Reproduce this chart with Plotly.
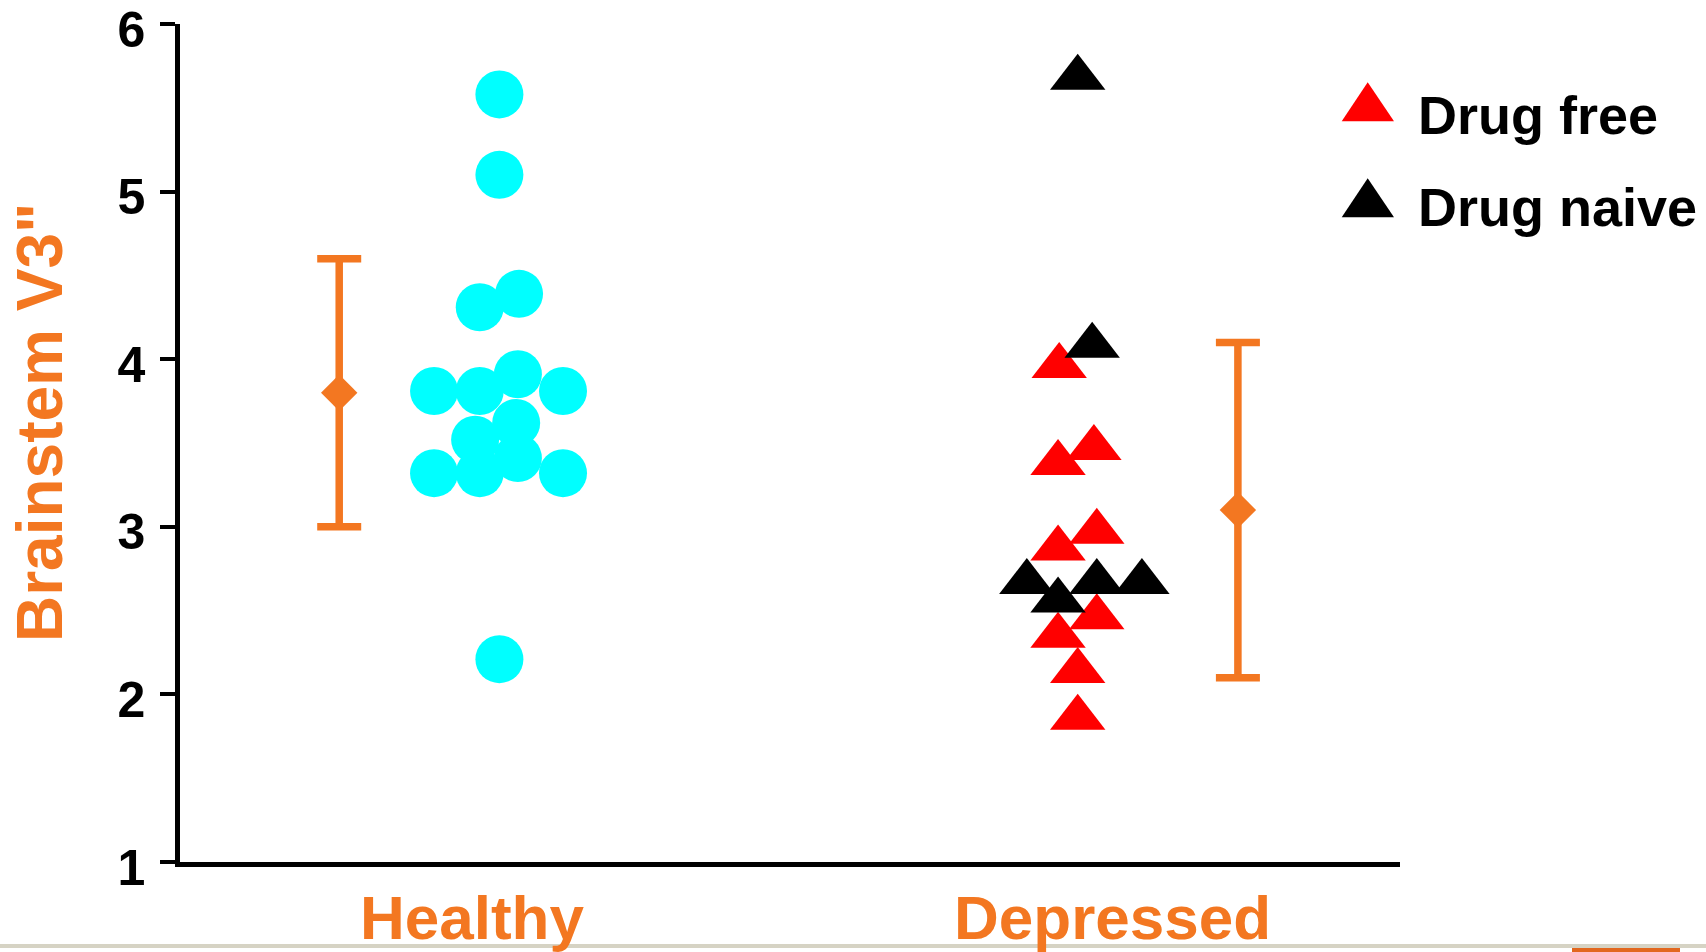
import plotly.graph_objects as go

# ---------------- data ----------------
group_names = ["Healthy", "Depressed"]
group_pos = [1, 2]

healthy_values = [5.58, 5.10, 4.31, 4.39, 3.81, 3.81, 3.91, 3.81, 3.62, 3.52, 3.41, 3.32, 3.32, 3.32, 2.21]
healthy_jitter = [0.0, 0.0, -0.034, 0.034, -0.113, -0.034, 0.032, 0.110, 0.029, -0.042, 0.032, -0.113, -0.034, 0.110, 0.0]

drug_free_values = [3.96, 3.47, 3.38, 2.97, 2.87, 2.46, 2.35, 2.14, 1.86]
drug_free_jitter = [-0.032, 0.028, -0.034, 0.033, -0.034, 0.033, -0.034, 0.0, 0.0]

drug_naive_values = [5.68, 4.08, 2.67, 2.67, 2.67, 2.56]
drug_naive_jitter = [0.0, 0.025, -0.088, 0.033, 0.111, -0.034]

summary_means = [3.8, 3.1]
summary_sd = [0.8, 1.0]
summary_offset = [-0.277, 0.277]

legend_labels = ["Drug free", "Drug naive"]
y_title = 'Brainstem V3"'
y_ticks = [1, 2, 3, 4, 5, 6]

# ---------------- style ----------------
ORANGE = "#F37721"
FONT = "Liberation Sans, Arial, sans-serif"

fig = go.Figure()

# mean +/- SD
fig.add_trace(go.Scatter(
    x=[p + o for p, o in zip(group_pos, summary_offset)],
    y=summary_means,
    mode="markers",
    marker=dict(symbol="diamond", size=28, color=ORANGE, line=dict(width=0)),
    error_y=dict(type="data", array=summary_sd, visible=True,
                 color=ORANGE, thickness=7.5, width=22),
    showlegend=False, hoverinfo="skip",
))

fig.add_trace(go.Scatter(
    x=[group_pos[0] + j for j in healthy_jitter],
    y=healthy_values,
    mode="markers",
    marker=dict(symbol="circle", size=48, color="#00FFFF", line=dict(width=0)),
    showlegend=False,
))

fig.add_trace(go.Scatter(
    x=[group_pos[1] + j for j in drug_free_jitter],
    y=drug_free_values,
    mode="markers",
    marker=dict(symbol="triangle-up", size=48, color="#FF0000", line=dict(width=0)),
    showlegend=False, name=legend_labels[0],
))

fig.add_trace(go.Scatter(
    x=[group_pos[1] + j for j in drug_naive_jitter],
    y=drug_naive_values,
    mode="markers",
    marker=dict(symbol="triangle-up", size=48, color="#000000", line=dict(width=0)),
    showlegend=False, name=legend_labels[1],
))

L, R, T, B = 180, 306, 24, 90
W, H = 1706, 952
pw, ph = W - L - R, H - T - B


def px(xp):
    return (xp - L) / pw


def py(yp):
    return (H - B - yp) / ph


fig.update_layout(
    width=W, height=H,
    margin=dict(l=L, r=R, t=T, b=B, autoexpand=False),
    paper_bgcolor="white", plot_bgcolor="white",
    showlegend=False,
    xaxis=dict(range=[0.4477, 2.5573], showgrid=False, zeroline=False,
               showline=True, linecolor="black", linewidth=5, automargin=False,
               showticklabels=False, ticks=""),
    yaxis=dict(range=[1, 6], tickvals=y_ticks, showgrid=False, zeroline=False,
               showline=True, linecolor="black", linewidth=4.5, automargin=False,
               ticks="outside", ticklen=15, tickwidth=4, tickcolor="black",
               ticklabelstandoff=5, ticklabeloverflow="allow", ticklabelshift=5,
               tickfont=dict(family=FONT, size=50, color="black", weight="bold")),
)

# category labels
for name, pos, xo in zip(group_names, group_pos, [-0.048, 0.060]):
    fig.add_annotation(x=pos + xo, y=py(917.7), xref="x", yref="paper",
                       text=name, showarrow=False, xanchor="center", yanchor="middle",
                       font=dict(family=FONT, size=62, color=ORANGE, weight="bold"))

# y title
fig.add_annotation(x=px(40), y=py(423), xref="paper", yref="paper",
                   text=y_title, textangle=-90, showarrow=False,
                   xanchor="center", yanchor="middle",
                   font=dict(family=FONT, size=64, color=ORANGE, weight="bold"))

# legend (manual)
legend_colors = ["#FF0000", "#000000"]
legend_apex = [82.3, 178.3]
legend_text_y = [114.7, 207.3]
for lab, col, ay, ty in zip(legend_labels, legend_colors, legend_apex, legend_text_y):
    ax0, axl, axr = px(1367.7), px(1341.7), px(1394)
    yt, yb = py(ay), py(ay + 39)
    fig.add_shape(type="path", xref="paper", yref="paper",
                  path=f"M {axl} {yb} L {axr} {yb} L {ax0} {yt} Z",
                  fillcolor=col, line=dict(width=0))
    fig.add_annotation(x=px(1416), y=py(ty), xref="paper", yref="paper",
                       text=lab, showarrow=False, xanchor="left", yanchor="middle",
                       font=dict(family=FONT, size=54, color="black", weight="bold"))

# bottom window strip
fig.add_shape(type="rect", xref="paper", yref="paper",
              x0=px(0), x1=px(W), y0=py(948), y1=py(944),
              fillcolor="#D6D3C4", line=dict(width=0), layer="below")
fig.add_shape(type="rect", xref="paper", yref="paper",
              x0=px(1572), x1=px(1680), y0=py(952), y1=py(948),
              fillcolor="#E2671F", line=dict(width=0), layer="below")

fig.write_html("out.html", config={"displayModeBar": False},
               post_script="document.body.style.margin='0';document.body.style.overflow='hidden';")
